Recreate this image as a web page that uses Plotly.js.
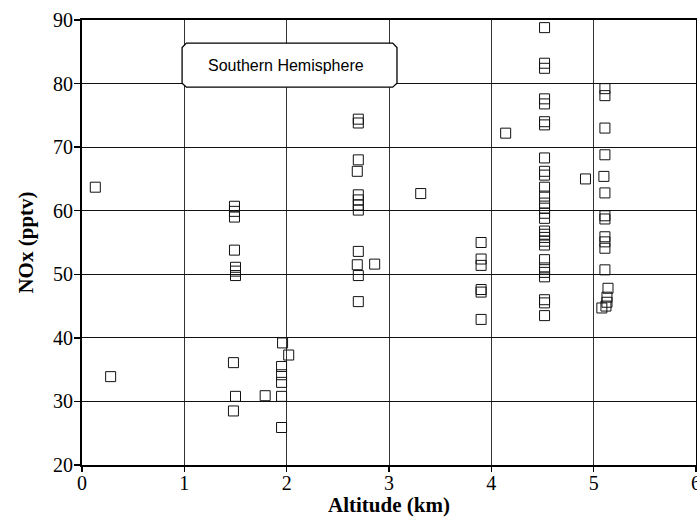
<!DOCTYPE html>
<html>
<head>
<meta charset="utf-8">
<script src="https://cdn.plot.ly/plotly-3.0.1.min.js"></script>
<style>html,body{margin:0;padding:0;background:#fff;}#chart{width:697px;height:517px;}</style>
</head>
<body>
<div id="chart"></div>
<script>
// Altitude (km) and NOx (pptv)
const altitude = [
  0.13, 0.28,
  1.49, 1.49, 1.49, 1.49, 1.50, 1.50, 1.50, 1.48, 1.50, 1.48,
  1.79,
  1.96, 2.02, 1.95, 1.95, 1.95, 1.95, 1.95,
  2.70, 2.70, 2.70, 2.69, 2.70, 2.70, 2.70, 2.70, 2.70, 2.69, 2.70, 2.70,
  2.86,
  3.31,
  3.90, 3.90, 3.90, 3.90, 3.90, 3.90,
  4.14,
  4.52, 4.52, 4.52, 4.52, 4.52, 4.52, 4.52, 4.52, 4.52, 4.52, 4.52, 4.52, 4.52, 4.52,
  4.52, 4.52, 4.52, 4.52, 4.52, 4.52, 4.52, 4.52, 4.52, 4.52, 4.52, 4.52, 4.52, 4.52,
  4.92,
  5.11, 5.11, 5.11, 5.11, 5.10, 5.11, 5.11, 5.11, 5.11, 5.11, 5.11, 5.11,
  5.14, 5.13, 5.13, 5.12, 5.08
];
const nox = [
  63.7, 33.9,
  60.7, 59.9, 59.0, 53.8, 51.1, 50.5, 49.8, 36.1, 30.8, 28.5,
  30.9,
  39.2, 37.3, 35.5, 34.2, 33.0, 30.8, 25.9,
  74.4, 73.8, 68.0, 66.2, 62.5, 61.7, 60.9, 60.1, 53.6, 51.5, 49.8, 45.7,
  51.6,
  62.7,
  55.0, 52.4, 51.4, 47.6, 47.2, 42.9,
  72.2,
  88.8, 83.2, 82.4, 77.6, 76.8, 74.0, 73.5, 68.3, 66.2, 65.6, 63.7, 62.3, 61.2, 60.4,
  59.6, 58.8, 56.8, 56.3, 55.8, 55.2, 54.6, 52.3, 51.0, 50.3, 49.6, 46.0, 45.5, 43.5,
  65.0,
  79.2, 78.1, 73.0, 68.8, 65.4, 62.8, 59.2, 58.7, 55.9, 55.1, 54.1, 50.7,
  47.8, 46.4, 45.6, 45.0, 44.7
];
const xTicks = [0, 1, 2, 3, 4, 5, 6];
const yTicks = [20, 30, 40, 50, 60, 70, 80, 90];
const panelLabel = "Southern Hemisphere";

const trace = {
  x: altitude, y: nox, type: 'scatter', mode: 'markers',
  marker: {symbol: 'square-open', size: 10, color: '#111', line: {width: 1, color: '#111'}},
  hoverinfo: 'x+y'
};

const serif = 'Liberation Serif, Times New Roman, serif';
const layout = {
  width: 697, height: 517,
  margin: {l: 82, r: 1, t: 20, b: 52},
  paper_bgcolor: '#fff', plot_bgcolor: '#fff',
  showlegend: false,
  xaxis: {
    range: [0, 6], tickvals: xTicks, ticktext: xTicks.map(String),
    showgrid: true, gridcolor: '#333', gridwidth: 1,
    zeroline: false, showline: true, linecolor: '#000', linewidth: 2, mirror: true,
    ticks: 'outside', ticklen: 5, tickwidth: 1.5, tickcolor: '#000',
    ticklabeloverflow: 'allow', ticklabelstandoff: -6,
    tickfont: {family: serif, size: 20, color: '#000'},
    title: {text: '<b>Altitude (km)</b>', font: {family: serif, size: 21, color: '#000'}, standoff: 14}
  },
  yaxis: {
    range: [20, 90], tickvals: yTicks, ticktext: yTicks.map(String),
    showgrid: true, gridcolor: '#111', gridwidth: 1.2,
    zeroline: false, showline: true, linecolor: '#000', linewidth: 2, mirror: true,
    ticks: 'outside', ticklen: 6, tickwidth: 1.5, tickcolor: '#000',
    ticklabelstandoff: -3,
    tickfont: {family: serif, size: 20, color: '#000'},
    title: {text: '<b>NOx (pptv)</b>', font: {family: serif, size: 21, color: '#000'}, standoff: 14}
  },
  shapes: [{
    type: 'path', xref: 'paper', yref: 'paper',
    path: 'M 0.170 0.948 L 0.506 0.948 L 0.513 0.938 L 0.513 0.858 L 0.506 0.849 L 0.170 0.849 L 0.163 0.858 L 0.163 0.938 Z',
    fillcolor: '#fff', line: {color: '#000', width: 1.3}, layer: 'above'
  }],
  annotations: [{
    text: panelLabel, xref: 'paper', yref: 'paper', x: 0.332, y: 0.898,
    xanchor: 'center', yanchor: 'middle', showarrow: false,
    font: {family: 'Liberation Sans, Arial, sans-serif', size: 16, color: '#000'}
  }]
};

Plotly.newPlot('chart', [trace], layout, {displayModeBar: false, staticPlot: true});
</script>
</body>
</html>
